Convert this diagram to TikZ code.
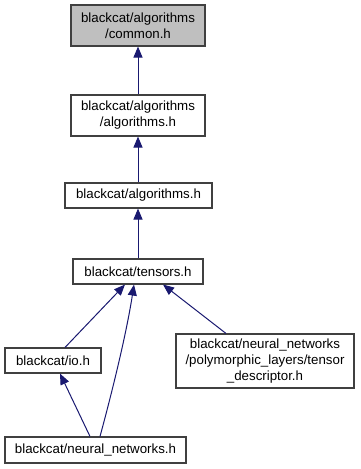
\documentclass[tikz,border=0pt]{standalone}
\usepackage{fontspec}
\setmainfont{Liberation Sans}
\usetikzlibrary{arrows.meta}
\definecolor{edgeblue}{HTML}{191970}
\definecolor{rootgray}{HTML}{BFBFBF}
\definecolor{boxline}{HTML}{404040}
\begin{document}
\begin{tikzpicture}[x=1pt,y=-1pt,
  filebox/.style={draw=boxline, line width=1.1pt, fill=white, rectangle,
    inner sep=0pt, align=center, font=\fontsize{13.3}{16}\selectfont},
  dep/.style={draw=edgeblue, line width=1pt,
    {Triangle[length=11pt,width=9pt]}-},
]
\useasboundingbox (0,0) rectangle (360,469);

% header files
\node[filebox, fill=rootgray, minimum width=134pt, minimum height=41pt] (common) at (138,25.5)
  {blackcat/algorithms\\/common.h};
\node[filebox, minimum width=134pt, minimum height=41pt] (algalg) at (138,115.5)
  {blackcat/algorithms\\/algorithms.h};
\node[filebox, minimum width=147pt, minimum height=25pt] (alg) at (138.5,195.5)
  {blackcat/algorithms.h};
\node[filebox, minimum width=130pt, minimum height=25pt] (tensors) at (138,271.5)
  {blackcat/tensors.h};
\node[filebox, minimum width=96pt, minimum height=25pt] (io) at (53,360.5)
  {blackcat/io.h};
\node[filebox, minimum width=178pt, minimum height=54pt] (td) at (265,361)
  {blackcat/neural\_networks\\/polymorphic\_layers/tensor\\\_descriptor.h};
\node[filebox, minimum width=181pt, minimum height=26pt] (nn) at (95.5,450)
  {blackcat/neural\_networks.h};

% include dependencies (arrow points at the included file)
\draw[dep] (common.south) -- (algalg.north);
\draw[dep] (algalg.south) -- (algalg.south |- alg.north);
\draw[dep] (tensors.north |- alg.south) -- (tensors.north);
\draw[dep] ([xshift=-13pt]tensors.south) -- ([xshift=12pt]io.north);
\draw[dep] ([xshift=-4pt]tensors.south) .. controls (127,330) and (114,385) .. ([xshift=4.5pt]nn.north);
\draw[dep] ([xshift=25pt]tensors.south) -- ([xshift=-39pt]td.north);
\draw[dep] ([xshift=7pt]io.south) -- ([xshift=-5.5pt]nn.north);
\end{tikzpicture}
\end{document}
